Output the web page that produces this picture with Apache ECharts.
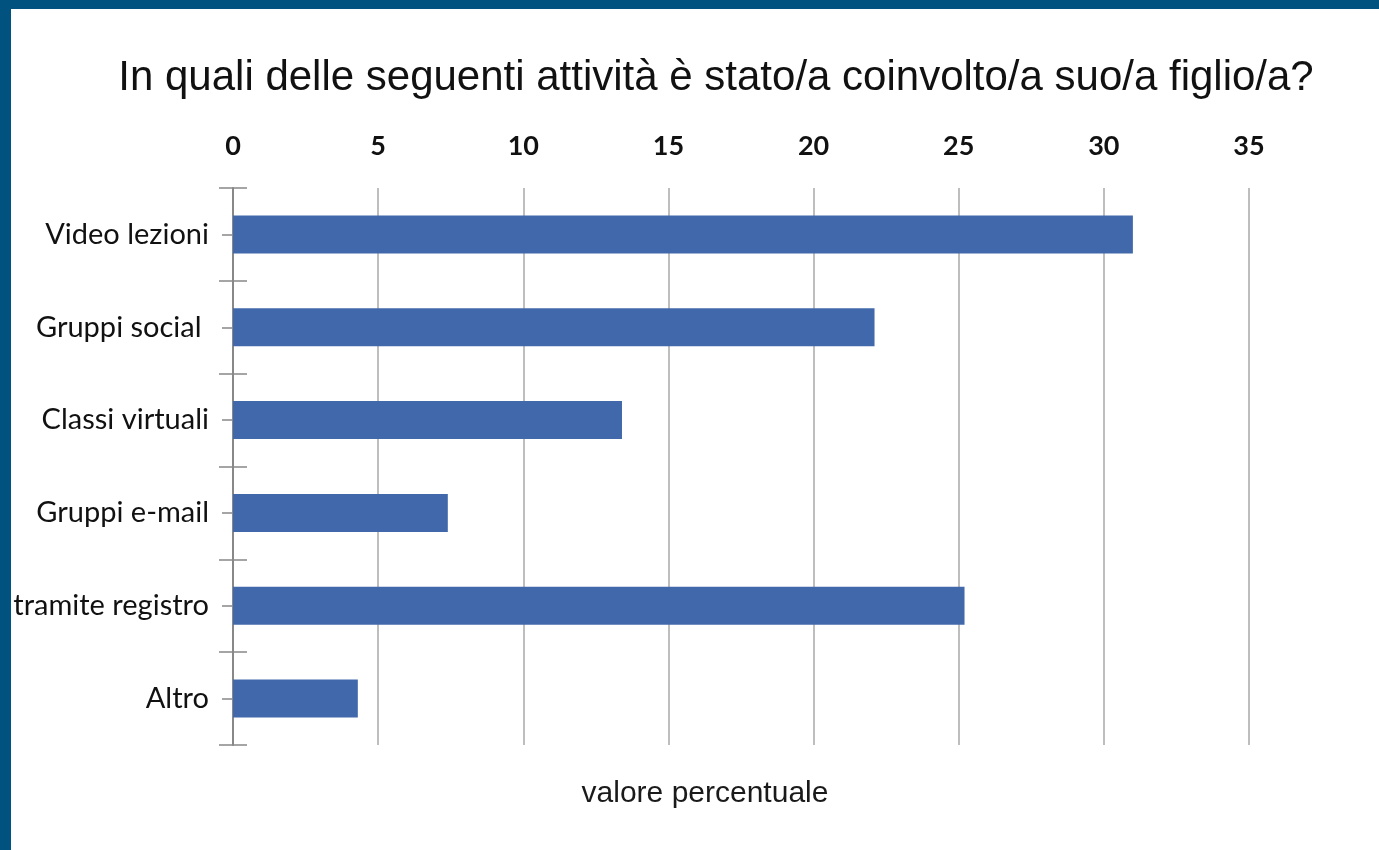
<!DOCTYPE html>
<html>
<head>
<meta charset="utf-8">
<script src="https://cdn.jsdelivr.net/npm/echarts@6/dist/echarts.min.js"></script>
<style>
html,body{margin:0;padding:0;background:#fff;}
#chart{width:1379px;height:850px;}
</style>
</head>
<body>
<div id="chart"></div>
<script>
var categories = ["Video lezioni", "Gruppi social ", "Classi virtuali", "Gruppi e-mail", "tramite registro", "Altro"];
var values = [31.0, 22.1, 13.4, 7.4, 25.2, 4.3];
var xTicks = [0, 5, 10, 15, 20, 25, 30, 35];
var titleText = "In quali delle seguenti attività è stato/a coinvolto/a suo/a figlio/a?";
var axisNameText = "valore percentuale";

var chart = echarts.init(document.getElementById('chart'));
var frameColor = '#01527f';
var gridCommon = {left: 233, right: 130, top: 188, bottom: 105};
var option = {
  backgroundColor: '#ffffff',
  animation: false,
  graphic: [
    {type: 'rect', shape: {x: 0, y: 0, width: 1379, height: 9}, style: {fill: frameColor}, z: 100},
    {type: 'rect', shape: {x: 0, y: 0, width: 11, height: 850}, style: {fill: frameColor}, z: 100}
  ],
  title: [
    {text: titleText, left: 711, top: 52, textAlign: 'center',
     textStyle: {fontFamily: 'Liberation Sans', fontSize: 42, fontWeight: 'normal', color: '#111'}},
    {text: axisNameText, left: 700, top: 774, textAlign: 'center',
     textStyle: {fontFamily: 'Liberation Sans', fontSize: 30, fontWeight: 'normal', color: '#1a1a1a'}}
  ],
  grid: gridCommon,
  xAxis: {
    type: 'value', position: 'top', min: xTicks[0], max: xTicks[xTicks.length - 1], interval: 5,
    axisLine: {show: false},
    axisTick: {show: false},
    axisLabel: {fontFamily: 'Lato', fontSize: 27, color: '#111', margin: 28, fontWeight: 'bold'},
    splitLine: {show: true, lineStyle: {color: '#a8a8a8', width: 1.5}}
  },
  yAxis: [
    {
      type: 'category', data: categories, inverse: true, position: 'left',
      axisLine: {show: true, lineStyle: {color: '#888', width: 2}},
      axisTick: {show: true, alignWithLabel: false, length: 14, lineStyle: {color: '#888', width: 1.5}},
      axisLabel: {fontFamily: 'Lato', fontSize: 29, color: '#111', margin: 24}
    },
    {
      type: 'category', data: categories, inverse: true, position: 'left',
      axisLine: {show: false},
      axisTick: {show: true, inside: true, alignWithLabel: false, length: 14, lineStyle: {color: '#888', width: 1.5}},
      axisLabel: {show: false}
    },
    {
      type: 'category', data: categories, inverse: true, position: 'left',
      axisLine: {show: false},
      axisTick: {show: true, alignWithLabel: true, length: 11, lineStyle: {color: '#888', width: 1.5}},
      axisLabel: {show: false}
    }
  ],
  series: [{
    type: 'bar', data: values, yAxisIndex: 0, barWidth: 38,
    itemStyle: {color: '#4068aa'}
  }]
};
chart.setOption(option);
</script>
</body>
</html>
